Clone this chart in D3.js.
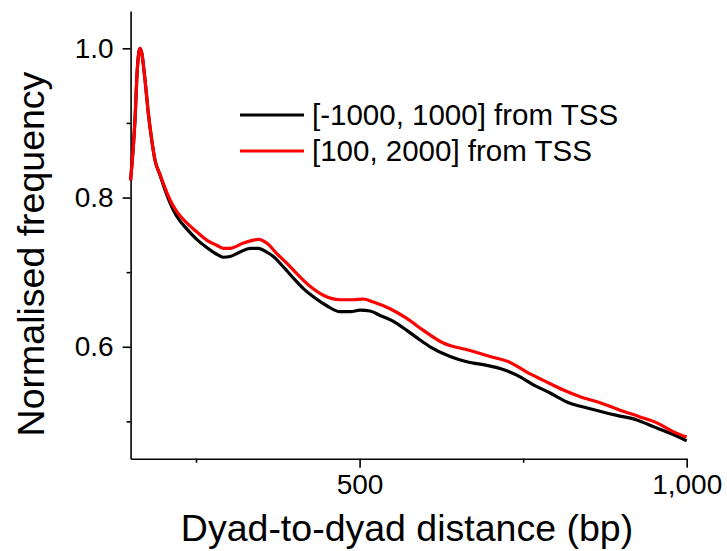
<!DOCTYPE html>
<html>
<head>
<meta charset="utf-8">
<script src="https://cdn.jsdelivr.net/npm/d3@7"></script>
<style>
  html, body { margin: 0; padding: 0; background: #fff; }
  svg { display: block; }
  text { font-family: "Liberation Sans", Arial, Helvetica, sans-serif; fill: #000; }
</style>
</head>
<body>
<svg id="chart" width="727" height="551"></svg>
<script>
// Dyad-to-dyad distance (bp) and normalised frequency for two TSS windows
const blackX = [150, 156.7, 160.2, 164.4, 167, 172, 177.1, 182.3, 187.3, 195, 202.6, 210.2, 220.5, 235.8, 251.1, 266.4, 281.6, 291.7, 302, 317.3, 332.6, 345.3, 358.1, 368.2, 383.5, 398.8, 414.1, 429.4, 449.8, 470.2, 485.5, 500.8, 516, 531.3, 551.7, 572.2, 592.5, 607.8, 638.4, 663.9, 694.5, 714.8, 740.3, 765.7, 791.3, 816.8, 852.4, 893.3, 923.8, 949.2, 974.7, 1000];
const blackY = [0.823, 0.904, 0.971, 1.000, 0.994, 0.958, 0.913, 0.877, 0.850, 0.830, 0.810, 0.793, 0.775, 0.758, 0.744, 0.733, 0.724, 0.720, 0.721, 0.727, 0.732, 0.732, 0.727, 0.721, 0.707, 0.692, 0.678, 0.667, 0.655, 0.647, 0.647, 0.649, 0.648, 0.642, 0.634, 0.622, 0.609, 0.600, 0.587, 0.580, 0.575, 0.571, 0.562, 0.549, 0.538, 0.526, 0.517, 0.508, 0.502, 0.493, 0.484, 0.474];

const redX = [150, 156.7, 160.2, 164.4, 167, 172, 177.1, 182.3, 187.3, 195, 202.6, 210.2, 220.5, 235.8, 251.1, 266.4, 281.6, 291.7, 302, 322.3, 337.6, 345.3, 358.1, 373.4, 388.7, 404, 424.3, 444.6, 470.2, 490.5, 505.8, 521.1, 546.6, 572.2, 597.5, 628.1, 668.9, 699.5, 730.1, 755.6, 781, 811.6, 837.1, 867.7, 898.2, 928.8, 954.4, 979.8, 1000];
const redY = [0.823, 0.904, 0.971, 1.000, 0.994, 0.958, 0.913, 0.877, 0.850, 0.831, 0.813, 0.797, 0.781, 0.766, 0.754, 0.743, 0.736, 0.732, 0.732, 0.739, 0.743, 0.744, 0.739, 0.725, 0.712, 0.698, 0.681, 0.669, 0.663, 0.663, 0.664, 0.660, 0.651, 0.638, 0.622, 0.605, 0.595, 0.587, 0.579, 0.566, 0.555, 0.542, 0.533, 0.525, 0.515, 0.506, 0.498, 0.486, 0.479];

const seriesNames = ["[-1000, 1000] from TSS", "[100, 2000] from TSS"];
const seriesColors = ["#000000", "#ff0000"];

const xMajorTicks = [500, 1000];
const xMinorTicks = [250, 750];
const yMajorTicks = [0.6, 0.8, 1.0];
const yMinorTicks = [0.5, 0.7, 0.9];

const svg = d3.select("#chart");

const x = d3.scaleLinear().domain([150, 1000]).range([130.6, 686.7]);
const y = d3.scaleLinear().domain([0.45, 1.05]).range([458.7, 11]);

const axisColor = "#000";

// Axes: left and bottom only, outward ticks, no end caps
const xAxisMajor = d3.axisBottom(x).tickValues(xMajorTicks).tickSize(9).tickSizeOuter(0).tickPadding(6)
  .tickFormat(d3.format(","));
const xAxisMinor = d3.axisBottom(x).tickValues(xMinorTicks).tickSize(4).tickSizeOuter(0).tickFormat("");
const yAxisMajor = d3.axisLeft(y).tickValues(yMajorTicks).tickSize(8).tickSizeOuter(0).tickPadding(9)
  .tickFormat(d3.format(".1f"));
const yAxisMinor = d3.axisLeft(y).tickValues(yMinorTicks).tickSize(4).tickSizeOuter(0).tickFormat("");

function styleAxis(g) {
  g.selectAll(".domain").attr("stroke", axisColor).attr("stroke-width", 1.6);
  g.selectAll(".tick line").attr("stroke", axisColor).attr("stroke-width", 1.6);
  g.selectAll(".tick text").style("font-size", "28px")
    .style("font-family", '"Liberation Sans", Arial, sans-serif').attr("fill", "#000");
}

const gx = svg.append("g").attr("transform", `translate(0,${y(0.45)})`);
gx.call(xAxisMajor); styleAxis(gx);
const gxm = svg.append("g").attr("transform", `translate(0,${y(0.45)})`);
gxm.call(xAxisMinor); styleAxis(gxm); gxm.select(".domain").remove();

const gy = svg.append("g").attr("transform", `translate(${x(150)},0)`);
gy.call(yAxisMajor); styleAxis(gy);
const gym = svg.append("g").attr("transform", `translate(${x(150)},0)`);
gym.call(yAxisMinor); styleAxis(gym); gym.select(".domain").remove();

// Curves
const line = d3.line().x(d => x(d[0])).y(d => y(d[1])).curve(d3.curveMonotoneX);
const blackData = d3.zip(blackX, blackY);
const redData = d3.zip(redX, redY);

svg.append("path").datum(blackData)
  .attr("d", line).attr("fill", "none")
  .attr("stroke", seriesColors[0]).attr("stroke-width", 3.2).attr("stroke-linejoin", "round");
svg.append("path").datum(redData)
  .attr("d", line).attr("fill", "none")
  .attr("stroke", seriesColors[1]).attr("stroke-width", 3.2).attr("stroke-linejoin", "round");

// Legend
const legend = svg.append("g");
seriesNames.forEach((name, i) => {
  const ly = 115 + i * 36;
  legend.append("line").attr("x1", 240).attr("x2", 304).attr("y1", ly).attr("y2", ly)
    .attr("stroke", seriesColors[i]).attr("stroke-width", 3);
  legend.append("text").attr("x", 312).attr("y", ly).attr("dy", "0.35em")
    .style("font-size", "29.5px").text(name);
});

// Axis titles
svg.append("text").attr("x", 407).attr("y", 541)
  .attr("text-anchor", "middle").style("font-size", "37.5px")
  .text("Dyad-to-dyad distance (bp)");
svg.append("text").attr("transform", "translate(44,254) rotate(-90)")
  .attr("text-anchor", "middle").style("font-size", "37.5px")
  .text("Normalised frequency");
</script>
</body>
</html>
